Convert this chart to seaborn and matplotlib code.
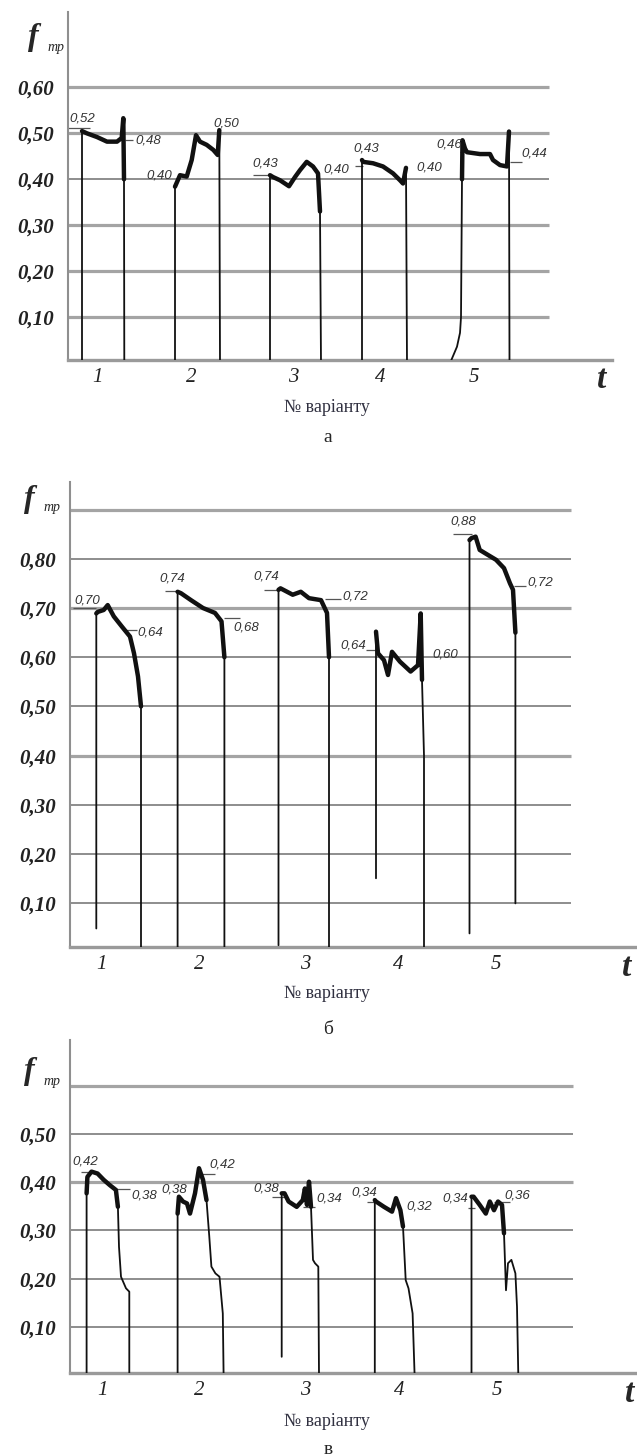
import numpy as np
import seaborn as sns
import matplotlib.pyplot as plt

# =========================
# DATA: t along the time axis, f = friction coefficient
# =========================
VARIANTS = ["1", "2", "3", "4", "5"]

# panel a
A_TICK_T = [29.5, 123, 225, 312, 406]
A_GRID = [0.10, 0.20, 0.30, 0.40, 0.50, 0.60]
A_T = [
    [14, 14, 19, 29, 39, 49, 53.7, 55.3, 56, 56.3],
    [107, 107, 112, 118.7, 123.7, 128, 132, 138.7, 145.3, 149.7, 151.3, 152],
    [202, 202, 205, 212, 221, 227, 232, 238.7, 245, 250, 252, 253],
    [294, 294, 295, 305, 315, 325, 332, 335, 338, 339],
    [382, 389, 392, 393, 394, 394.5, 397, 399, 412, 422, 425, 432, 439, 441, 441.5],
]
A_F = [
    [0.0, 0.505, 0.50, 0.492, 0.482, 0.482, 0.49, 0.533, 0.40, 0.0],
    [0.0, 0.384, 0.409, 0.406, 0.442, 0.496, 0.482, 0.475, 0.464, 0.453, 0.507, 0.0],
    [0.0, 0.409, 0.405, 0.398, 0.385, 0.405, 0.42, 0.438, 0.428, 0.413, 0.33, 0.0],
    [0.0, 0.442, 0.438, 0.435, 0.428, 0.413, 0.398, 0.391, 0.425, 0.0],
    [0.0, 0.036, 0.066, 0.10, 0.40, 0.485, 0.467, 0.459, 0.455, 0.455, 0.442, 0.431, 0.428, 0.504, 0.0],
]
A_LABELS = ["0,52", "0,48", "0,40", "0,50", "0,43", "0,40", "0,43", "0,40", "0,46", "0,44"]
A_LABEL_T = [14, 80, 91, 158, 197, 268, 298, 361, 381, 466]
A_LABEL_F = [0.533, 0.485, 0.409, 0.522, 0.435, 0.422, 0.466, 0.425, 0.475, 0.457]
A_LEAD = [(0, 22, 0.511), (57, 65, 0.486), (185, 202, 0.41), (287, 295, 0.43),
          (392, 396, 0.46), (442, 454, 0.438)]

# panel b
B_TICK_T = [31.6, 129, 235, 328, 426]
B_GRID = [0.10, 0.20, 0.30, 0.40, 0.50, 0.60, 0.70, 0.80, 0.90]
B_T = [
    [26.3, 26.3, 27.6, 33.7, 37.7, 43.8, 52, 60, 64, 68, 71, 71],
    [107.6, 107.6, 111, 121, 133, 145, 151.5, 154.4, 154.4],
    [208.5, 208.5, 210.5, 222.7, 230.8, 239, 251, 257, 259, 259],
    [306, 306, 308, 314, 318, 322, 330, 340.6, 348, 350.7, 352, 354, 354],
    [399.5, 399.5, 401.5, 405.6, 409.7, 417.8, 426, 434, 440, 443, 445.4, 445.4],
]
B_F = [
    [0.049, 0.689, 0.692, 0.696, 0.706, 0.683, 0.662, 0.642, 0.608, 0.561, 0.50, 0.0],
    [0.0, 0.733, 0.73, 0.716, 0.70, 0.69, 0.673, 0.60, 0.0],
    [0.015, 0.737, 0.74, 0.727, 0.733, 0.72, 0.716, 0.69, 0.60, 0.0],
    [0.151, 0.652, 0.608, 0.594, 0.564, 0.611, 0.591, 0.571, 0.584, 0.689, 0.554, 0.40, 0.0],
    [0.039, 0.838, 0.842, 0.845, 0.818, 0.808, 0.798, 0.781, 0.75, 0.737, 0.65, 0.10],
]
B_LABELS = ["0,70", "0,64", "0,74", "0,68", "0,74", "0,72", "0,64", "0,60", "0,88", "0,72"]
B_LABEL_T = [17.5, 80.5, 102.7, 176, 196, 285.7, 283.5, 375, 393.5, 470.5]
B_LABEL_F = [0.716, 0.650, 0.759, 0.660, 0.764, 0.723, 0.624, 0.605, 0.876, 0.751]
B_LEAD = [(3, 26, 0.70), (53, 67, 0.655), (95, 109, 0.735), (154, 170, 0.679),
          (194, 210, 0.737), (255, 271, 0.718), (296, 308, 0.615), (383, 401.5, 0.85),
          (444, 456, 0.744)]

# panel c
C_TICK_T = [32.4, 129, 235.7, 329, 427]
C_GRID = [0.10, 0.20, 0.30, 0.40, 0.50, 0.60]
C_T = [
    [16.6, 16.6, 17.4, 21.5, 27.6, 33.7, 39.8, 45.9, 47.9, 49, 51, 56, 59.3, 59.3],
    [107.6, 107.6, 108.9, 113, 117, 120, 125, 129, 133, 136.5, 139.3, 141.4, 145.4, 149.5, 152.8, 153.6],
    [211.7, 211.7, 214.5, 218.6, 226.7, 232.8, 234.9, 237, 239, 241, 243, 245, 248.3, 249],
    [304.8, 304.8, 306, 314, 322, 326, 330.4, 333, 335.7, 338.5, 342.6, 344.6],
    [401.5, 401.5, 403.6, 409.7, 415.8, 419.8, 424, 428, 432, 434, 436, 438, 441.4, 445.4, 447, 448.3],
]
C_F = [
    [0.0, 0.377, 0.411, 0.422, 0.418, 0.405, 0.394, 0.384, 0.349, 0.266, 0.204, 0.18, 0.173, 0.0],
    [0.0, 0.335, 0.37, 0.36, 0.356, 0.335, 0.377, 0.429, 0.405, 0.363, 0.287, 0.225, 0.211, 0.204, 0.128, 0.0],
    [0.038, 0.377, 0.377, 0.36, 0.349, 0.363, 0.387, 0.353, 0.401, 0.349, 0.239, 0.232, 0.225, 0.0],
    [0.0, 0.363, 0.36, 0.349, 0.339, 0.367, 0.342, 0.308, 0.197, 0.18, 0.128, 0.0],
    [0.0, 0.37, 0.37, 0.353, 0.335, 0.36, 0.342, 0.36, 0.353, 0.294, 0.176, 0.232, 0.239, 0.211, 0.142, 0.0],
]
C_LABELS = ["0,42", "0,38", "0,38", "0,42", "0,38", "0,34", "0,34", "0,32", "0,34", "0,36"]
C_LABEL_T = [15, 74, 104, 152, 196, 259, 294, 349, 385, 447]
C_LABEL_F = [0.443, 0.373, 0.384, 0.436, 0.386, 0.367, 0.378, 0.349, 0.367, 0.373]
C_LEAD = [(11, 27.6, 0.422), (46, 60, 0.387), (131, 145, 0.418), (202, 214.5, 0.37),
          (233, 245, 0.349), (297, 306, 0.36), (398, 405, 0.346), (424, 440, 0.36)]


# =========================
# LAYOUT
# =========================
W, H = 637, 1456
SERIF = "Liberation Serif"
SANS = "Liberation Sans"


def fmt(v):
    return f"{v:.2f}".replace(".", ",")


def runs_above(t, f, thr):
    runs, cur = [], []
    for ti, fi in zip(t, f):
        if fi >= thr:
            cur.append((ti, fi))
        else:
            if len(cur) > 1:
                runs.append(cur)
            cur = []
    if len(cur) > 1:
        runs.append(cur)
    return runs


def panel(fig, box, xlim, ylim, grid, heavy, grid_end, labelled, ticks_t,
          ts, fs, labels, lab_t, lab_f, leads, letter, ftxt, tpos, vpos, lpos):
    left, top, right, bottom = box
    ax = fig.add_axes([left / W, 1 - bottom / H, (right - left) / W, (bottom - top) / H])
    ax.set_xlim(*xlim)
    ax.set_ylim(*ylim)

    for g in grid:
        if round(g, 2) in heavy:
            ax.hlines(g, 0, grid_end, color="#a4a4a4", lw=2.3, zorder=1)
        else:
            ax.hlines(g, 0, grid_end, color="#6f6f6f", lw=1.1, zorder=1)

    for t, f in zip(ts, fs):
        sns.lineplot(x=t, y=f, sort=False, estimator=None, color="#111111",
                     lw=1.3, ax=ax, zorder=3)
        for run in runs_above(t, f, 0.7 * max(f)):
            rt, rf = zip(*run)
            sns.lineplot(x=list(rt), y=list(rf), sort=False, estimator=None,
                         color="#111111", lw=3.2, ax=ax, zorder=3)

    for t0, t1, v in leads:
        ax.hlines(v, t0, t1, color="#555555", lw=0.9, zorder=2)
    for s, t, v in zip(labels, lab_t, lab_f):
        ax.text(t, v, s, ha="center", va="center", fontsize=9.5, style="italic",
                family=SANS, color="#333333", zorder=4)

    ax.set_yticks(labelled)
    ax.set_yticklabels([fmt(v) for v in labelled], family=SERIF, fontsize=15,
                       weight="bold", style="italic", color="#222222")
    ax.set_xticks(ticks_t)
    ax.set_xticklabels(VARIANTS, family=SERIF, fontsize=15, style="italic",
                       color="#222222")
    ax.tick_params(axis="both", length=0)
    ax.tick_params(axis="y", pad=10)
    ax.tick_params(axis="x", pad=6)
    ax.set_xlabel("")
    ax.set_ylabel("")
    for side in ["top", "right"]:
        ax.spines[side].set_visible(False)
    ax.spines["left"].set_color("#8f8f8f")
    ax.spines["left"].set_linewidth(1.5)
    ax.spines["bottom"].set_color("#9a9a9a")
    ax.spines["bottom"].set_linewidth(2.4)

    fx, fy = ftxt
    fig.text(fx / W, 1 - fy / H, "f", family=SERIF, fontsize=23, weight="bold",
             style="italic", ha="center", va="center")
    fig.text((fx + 23) / W, 1 - (fy + 9) / H, "тр", family=SERIF, fontsize=10,
             style="italic", ha="center", va="center")
    fig.text(tpos[0] / W, 1 - tpos[1] / H, "t", family=SERIF, fontsize=24,
             weight="bold", style="italic", ha="center", va="center")
    fig.text(vpos[0] / W, 1 - vpos[1] / H, "№ варіанту", family=SERIF,
             fontsize=13, color="#303040", ha="center", va="center")
    fig.text(lpos[0] / W, 1 - lpos[1] / H, letter, family=SERIF, fontsize=14,
             ha="center", va="center")
    return ax


def main():
    sns.set_theme(style="white")
    plt.rcParams["font.family"] = [SERIF, "DejaVu Serif"]

    fig = plt.figure(figsize=(W / 100, H / 100), dpi=100)
    fig.patch.set_facecolor("white")

    panel(fig, (68, 12, 612, 360), (0, 544), (0.007, 0.764), A_GRID,
          {0.6, 0.5, 0.3, 0.2, 0.1}, 481, A_GRID, A_TICK_T, A_T, A_F,
          A_LABELS, A_LABEL_T, A_LABEL_F, A_LEAD, "а",
          (33, 38), (602, 380), (327, 408), (328, 437))

    panel(fig, (70, 482, 635, 946.7), (0, 565), (0.012, 0.956), B_GRID,
          {0.9, 0.7, 0.4}, 501, B_GRID[:-1], B_TICK_T, B_T, B_F,
          B_LABELS, B_LABEL_T, B_LABEL_F, B_LEAD, "б",
          (29, 499), (627, 968), (327, 993), (328, 1030))

    panel(fig, (70, 1040, 635, 1372.7), (0, 565), (0.005, 0.695), C_GRID,
          {0.6, 0.4}, 503, C_GRID[:-1], C_TICK_T, C_T, C_F,
          C_LABELS, C_LABEL_T, C_LABEL_F, C_LEAD, "в",
          (29, 1072), (630, 1393), (327, 1421), (328, 1449))

    fig.savefig("out.png", dpi=100)
    plt.close(fig)


if __name__ == "__main__":
    main()
